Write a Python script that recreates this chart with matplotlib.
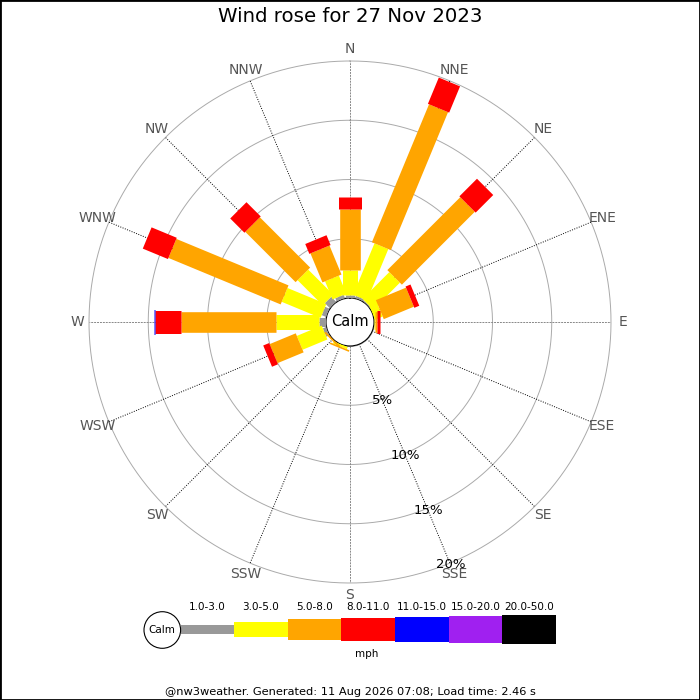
import numpy as np
import matplotlib
matplotlib.use("Agg")
import matplotlib.pyplot as plt
from matplotlib.patches import Circle, Rectangle

# directions clockwise from north
directions = ["N", "NNE", "NE", "ENE", "E", "ESE", "SE", "SSE",
              "S", "SSW", "SW", "WSW", "W", "WNW", "NW", "NNW"]

# speed bins (mph) and their colours
speed_bins = ["1.0-3.0", "3.0-5.0", "5.0-8.0", "8.0-11.0", "11.0-15.0", "15.0-20.0", "20.0-50.0"]
bin_colors = ["#999999", "#ffff00", "#ffa500", "#ff0000", "#0000ff", "#a020f0", "#000000"]

# percent of time in each speed bin, per direction
pct_1_3 = [0.25, 0.2, 0.1, 0.0, 0.0, 0, 0, 0, 0, 0.0, 0.0, 0.3, 0.6, 0.4, 0.6, 0.3]
pct_3_5 = [2.15, 4.7, 3.2, 0.7, 0.12, 0, 0, 0, 0, 0.2, 0.0, 2.27, 3.65, 3.55, 3.0, 1.65]
pct_5_8 = [5.1, 12.6, 8.7, 2.75, 0.17, 0, 0, 0, 0, 0.14, 0.15, 2.39, 7.95, 10.25, 6.0, 2.65]
pct_8_11 = [1.0, 2.4, 2.1, 0.45, 0.22, 0, 0, 0, 0, 0, 0, 0.54, 2.2, 2.3, 1.7, 0.9]
pct_11_15 = [0, 0, 0, 0, 0, 0, 0, 0, 0, 0, 0, 0, 0.15, 0, 0, 0]
pct_15_20 = [0] * 16
pct_20_50 = [0] * 16

ring_pcts = [5, 10, 15, 20]

title = "Wind rose for 27 Nov 2023"
footer = "@nw3weather. Generated: 11 Aug 2026 07:08; Load time: 2.46 s"

# bar thickness per bin, in pixels (same as the legend blocks)
bin_px = [9, 15, 20.6, 23, 25, 27, 28.3]

W = H = 700
fig = plt.figure(figsize=(7, 7), dpi=100)
fig.patch.set_facecolor("white")

# polar axes: centre at (350, 322) px, 20% ring at 261 px, 0% at 24 px
cx, cy, rmax_px, r0_px = 350, 322, 261, 24
ax = fig.add_axes([(cx - rmax_px) / W, (H - cy - rmax_px) / H, 2 * rmax_px / W, 2 * rmax_px / H],
                  projection="polar")
ax.set_theta_zero_location("N")
ax.set_theta_direction(-1)
ax.set_ylim(0, 20)
ax.set_rorigin(-20 * r0_px / (rmax_px - r0_px))
ax.grid(False)
ax.set_xticks([])
ax.set_yticks([])
ax.spines["polar"].set_visible(False)
ax.patch.set_alpha(0)

thetas = np.radians(np.arange(16) * 22.5)

# rings
circ = np.linspace(0, 2 * np.pi, 400)
for p in ring_pcts:
    ax.plot(circ, np.full_like(circ, p), color="#aaaaaa", lw=0.7, zorder=1, clip_on=False)

# spokes
for i, th in enumerate(thetas):
    if i % 4 == 0:
        ax.plot([th, th], [0, 20], color="#888888", lw=0.7, ls=(0, (2, 1)), zorder=1)
    else:
        ax.plot([th, th], [0, 20], color="black", lw=0.7, ls=(0, (1, 1.5)), zorder=1)

# calm circle
ax.add_patch(Circle((cx / W, 1 - cy / H), 24.5 / W, transform=fig.transFigure,
                    facecolor="white", edgecolor="#aaaaaa", lw=0.8, zorder=2))
fig.text(cx / W, 1 - cy / H, "Calm", ha="center", va="center", fontsize=10.5, zorder=10)

# stacked bars drawn as thick straight strokes
series = [pct_1_3, pct_3_5, pct_5_8, pct_8_11, pct_11_15, pct_15_20, pct_20_50]
bottom = np.zeros(16)
for vals, col, px in zip(series, bin_colors, bin_px):
    vals = np.array(vals, dtype=float)
    for th, b, v in zip(thetas, bottom, vals):
        if v > 0:
            ax.plot([th, th], [b, b + v], color=col, lw=px * 0.72,
                    solid_capstyle="butt", zorder=3)
    bottom += vals

# direction labels
for th, name in zip(thetas, directions):
    ax.text(th, 21.0, name, ha="center", va="center", fontsize=10,
            color="#555555", clip_on=False)

# percent labels along SSE
for p in ring_pcts:
    ax.text(np.radians(157.5), p + 0.15, "%d%%" % p, ha="center", va="center",
            fontsize=9.5, color="black", clip_on=False, zorder=5)

fig.text(0.5, 1 - 17 / H, title, ha="center", va="center", fontsize=14.2)

# legend in pixel coordinates
lax = fig.add_axes([0, 0, 1, 1])
lax.set_xlim(0, W)
lax.set_ylim(H, 0)
lax.axis("off")
lax.patch.set_alpha(0)

leg_x0, leg_w, leg_yc = 180.5, 53.6, 629.5
lefts = leg_x0 + np.arange(len(speed_bins)) * leg_w
lax.bar(lefts, bin_px, width=leg_w, bottom=leg_yc - np.array(bin_px) / 2,
        color=bin_colors, align="edge")
for x, lab in zip(lefts, speed_bins):
    lax.text(x + leg_w / 2, 607, lab, ha="center", va="center", fontsize=7.5)
lax.add_patch(Circle((162.3, 630), 18.3, facecolor="white", edgecolor="black", lw=0.8))
lax.text(162.3, 630, "Calm", ha="center", va="center", fontsize=7.5)
lax.text(leg_x0 + len(speed_bins) * leg_w / 2 - 1, 654, "mph", ha="center", va="center", fontsize=7.5)

lax.text(W / 2, 692, footer, ha="center", va="center", fontsize=8.2)

# frame around the figure
fig.patches.append(Rectangle((0, 0), 1, 1, transform=fig.transFigure, fill=False,
                             edgecolor="black", lw=2))

fig.savefig("out.png", dpi=100)
